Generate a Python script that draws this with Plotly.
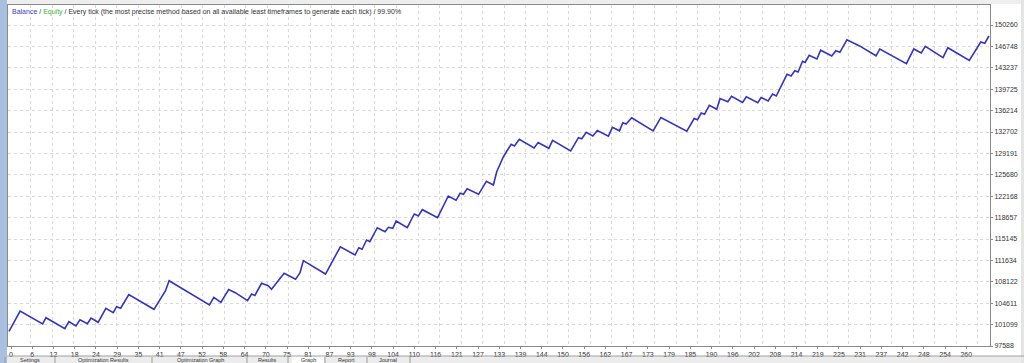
import plotly.graph_objects as go

# ---- data ----
trade_no = [0, 3.0, 9.1, 10.0, 15.1, 16.2, 18.1, 19.2, 21.2, 22.2, 24.1, 26.2, 28.2, 29.1, 30.2,
            32.4, 39.2, 42.3, 43.3, 54.2, 55.4, 57.3, 59.4, 61.2, 64.5, 65.6, 66.5, 68.3, 70.1,
            71.0, 74.4, 77.5, 78.7, 79.6, 85.6, 89.6, 93.6, 94.6, 95.5, 96.7, 97.6, 99.6, 101.7,
            102.6, 103.8, 104.7, 107.7, 109.6, 110.7, 111.8, 115.9, 118.8, 120.9, 122.0, 122.9,
            123.9, 127.0, 129.1, 131.0, 131.9, 133.7, 135.8, 136.7, 138.0, 142.0, 143.1, 146.0,
            147.0, 151.9, 154.0, 154.9, 156.1, 157.9, 159.1, 162.1, 163.2, 165.1, 166.0, 166.9,
            168.4, 174.2, 176.3, 183.3, 185.3, 186.2, 187.2, 188.1, 189.4, 191.4, 192.3, 194.4,
            195.4, 198.4, 199.4, 202.5, 203.4, 205.3, 206.5, 207.5, 210.4, 211.5, 212.5, 213.4,
            214.6, 215.3, 216.4, 218.5, 219.5, 222.5, 223.6, 224.7, 226.6, 229.9, 234.5, 235.5,
            242.7, 244.7, 246.7, 247.8, 252.6, 253.9, 259.7, 262.8, 263.9, 265.0]

balance = [100000, 103330, 101200, 102230, 100430, 101580, 100870, 101900, 101250, 102180,
           101480, 103780, 103050, 104040, 103780, 106010, 103610, 106610, 108300, 104320,
           105580, 104760, 106860, 106340, 105020, 106120, 105880, 107880, 107480, 106890,
           109520, 108530, 109620, 111590, 109400, 113870, 112520, 113720, 113460, 114980,
           114700, 117000, 116350, 117070, 116900, 118100, 117000, 119250, 118920, 119960,
           118640, 122200, 121500, 122650, 122480, 123400, 122480, 124620, 124010, 126190,
           128650, 130700, 130410, 131510, 130080, 130980, 130030, 131340, 129590, 131770,
           131590, 132670, 132050, 132950, 132020, 133480, 132900, 134230, 134020, 135050,
           132900, 135090, 132840, 134920, 134720, 135820, 135610, 137090, 136430, 138200,
           137660, 138580, 137550, 138480, 137500, 138370, 137790, 138940, 138610, 142170,
           141900, 142770, 142550, 144310, 144110, 145290, 144690, 146130, 145180, 146030,
           145780, 147840, 146870, 145210, 146330, 143910, 146330, 145670, 146770, 144900,
           146540, 144440, 147470, 147260, 148460]

assert len(trade_no) == len(balance), (len(trade_no), len(balance))

x_labels = ["0", "6", "12", "18", "24", "29", "35", "41", "47", "52", "58", "64", "70", "75",
            "81", "87", "93", "98", "104", "110", "116", "121", "127", "133", "139", "144",
            "150", "156", "162", "167", "173", "179", "185", "190", "196", "202", "208", "214",
            "219", "225", "231", "237", "242", "248", "254", "260"]

y_labels = ["97588", "101099", "104611", "108122", "111634", "115145", "118657", "122168",
            "125680", "129191", "132702", "136214", "139725", "143237", "146748", "150260"]

tab_names = ["Settings", "Optimization Results", "Optimization Graph", "Results", "Graph",
             "Report", "Journal"]

# ---- layout geometry ----
W, H = 1024, 363
ML, MR, MT, MB = 8, 34, 5, 17
PW, PH = W - ML - MR, H - MT - MB
x_range = [-0.27, 265.3]
y_range = [97588, 153546]

def px_x(p):
    return (p - ML) / PW

def px_y(p):
    return 1 - (p - MT) / PH

FONT = "Liberation Sans"
grid_col = "#d9d9d9"

fig = go.Figure()
fig.add_trace(go.Scatter(
    x=trade_no, y=balance, mode="lines",
    line=dict(color="#3434c4", width=1.6),
    showlegend=False, hoverinfo="skip", xaxis="x", yaxis="y"))
# empty trace to materialize the grid axis
fig.add_trace(go.Scatter(x=[None], y=[None], xaxis="x2", yaxis="y",
                         showlegend=False, hoverinfo="skip"))

label_pos = [0.55 + 5.741 * i for i in range(len(x_labels))]

fig.update_layout(
    width=W, height=H,
    margin=dict(l=ML, r=MR, t=MT, b=MB, pad=0),
    paper_bgcolor="white", plot_bgcolor="white",
    font=dict(family=FONT, size=7, color="#333333"),
    xaxis=dict(range=x_range, tickmode="array", tickvals=label_pos, ticktext=x_labels,
               showgrid=False, zeroline=False, showline=True, mirror=True,
               linecolor="#8a8a8a", linewidth=1, ticks="outside", ticklen=2,
               tickcolor="#8a8a8a", tickfont=dict(size=7, family=FONT, color="#333333")),
    xaxis2=dict(range=x_range, overlaying="x", tickmode="linear", tick0=0, dtick=5.822,
                showgrid=True, gridcolor=grid_col, griddash="dot", gridwidth=1,
                showticklabels=False, ticks="", zeroline=False, showline=False),
    yaxis=dict(range=y_range, side="right", tickmode="array",
               tickvals=[float(v) for v in y_labels], ticktext=y_labels,
               showgrid=True, gridcolor=grid_col, griddash="dot", gridwidth=1,
               zeroline=False, showline=True, mirror=True, linecolor="#8a8a8a",
               linewidth=1, ticks="outside", ticklen=2, tickcolor="#8a8a8a",
               tickfont=dict(size=7, family=FONT, color="#333333")),
)

# window chrome around the chart
shapes = [
    # top strip
    dict(type="rect", xref="paper", yref="paper", x0=px_x(0), x1=px_x(W), y0=px_y(0),
         y1=px_y(MT - 1), fillcolor="#eeeeee", line=dict(width=0), layer="below"),
    # left blue strip
    dict(type="rect", xref="paper", yref="paper", x0=px_x(0), x1=px_x(7), y0=px_y(H),
         y1=px_y(0), fillcolor="#a9bfe0", line=dict(width=0), layer="below"),
    # bottom tab strip
    dict(type="rect", xref="paper", yref="paper", x0=px_x(7), x1=px_x(W), y0=px_y(H),
         y1=px_y(356), fillcolor="#ececec", line=dict(width=0), layer="below"),
    dict(type="line", xref="paper", yref="paper", x0=px_x(7), x1=px_x(W), y0=px_y(356),
         y1=px_y(356), line=dict(color="#a0a0a0", width=1)),
    # right edge strip
    dict(type="rect", xref="paper", yref="paper", x0=px_x(1021), x1=px_x(W), y0=px_y(H),
         y1=px_y(0), fillcolor="#e4e4e4", line=dict(width=0), layer="below"),
]
tab_edges = [5, 55, 152, 247, 288, 325, 367, 410]
for e in tab_edges:
    shapes.append(dict(type="line", xref="paper", yref="paper", x0=px_x(e), x1=px_x(e),
                       y0=px_y(H), y1=px_y(357), line=dict(color="#9a9a9a", width=1)))
shapes.append(dict(type="rect", xref="paper", yref="paper", x0=px_x(292), x1=px_x(324),
                   y0=px_y(H), y1=px_y(356), fillcolor="white", line=dict(width=0),
                   layer="below"))
fig.update_layout(shapes=shapes)

annotations = [
    dict(xref="paper", yref="paper", x=px_x(10), y=px_y(12), xanchor="left", yanchor="middle",
         showarrow=False, font=dict(family=FONT, size=7, color="#333333"),
         text=("<span style='color:#3c3cc8'>Balance</span> / "
               "<span style='color:#3cb43c'>Equity</span> / Every tick (the most precise "
               "method based on all available least timeframes to generate each tick) / 99.90%")),
]
tab_centers = [30, 103, 200, 267, 308, 346, 388]
for name, cx in zip(tab_names, tab_centers):
    annotations.append(dict(xref="paper", yref="paper", x=px_x(cx), y=px_y(359.6),
                            xanchor="center", yanchor="middle", showarrow=False,
                            font=dict(family=FONT, size=5.5, color="#333333"), text=name))
fig.update_layout(annotations=annotations)

fig.write_html("out.html")
